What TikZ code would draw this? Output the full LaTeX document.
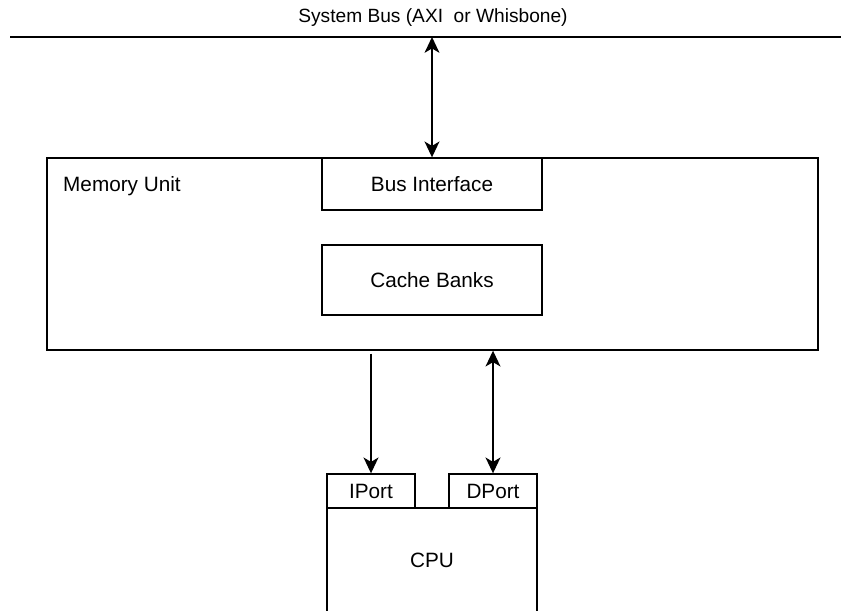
\documentclass[tikz,border=0pt]{standalone}
\usepackage{fontspec}
\setmainfont{Liberation Sans}
\usepackage{tikz}
\usetikzlibrary{arrows.meta,positioning,calc}

\begin{document}
\begin{tikzpicture}[
  x=0.02cm, y=-0.02cm,
  every node/.style={font=\fontsize{11.8}{14}\selectfont},
  block/.style={draw, rectangle, inner sep=0pt, line width=0.8pt, fill=white},
  unit/.style={block, minimum width=15.42cm, minimum height=3.84cm},
  sub/.style={block, minimum width=4.4cm},
  port/.style={block, minimum width=1.76cm, minimum height=0.68cm},
  link/.style={-{Stealth[length=9pt,width=8.5pt,inset=2.5pt]}, line width=0.8pt},
  duplex/.style={{Stealth[length=9pt,width=8.5pt,inset=2.5pt]}-{Stealth[length=9pt,width=8.5pt,inset=2.5pt]}, line width=0.8pt}
]
\useasboundingbox (0,0) rectangle (841,610);
\clip (0,0) rectangle (841,610);

% system bus
\coordinate (busL) at (10,37);
\coordinate (busR) at (845,37);
\draw[line width=1pt] (busL) -- (busR);
\node[font=\fontsize{10.9}{13}\selectfont] (buslbl) at (433,18) {System Bus (AXI\ \ or Whisbone)};
\coordinate (bustap) at (432,37);

% memory unit
\node[unit] (mem) at (432.5,254) {};
\node[anchor=west] (memlbl) at (57,186) {Memory Unit};
\node[sub, minimum height=1.04cm] (bif) at (432,184) {Bus Interface};
\node[sub, minimum height=1.4cm] (cache) at (432,280) {Cache Banks};

% cpu with its two ports
\node[block, minimum width=4.2cm, minimum height=2.08cm] (cpu) at (432,560) {CPU};
\node[port] (iport) at (371,491) {IPort};
\node[port] (dport) at (493,491) {DPort};

\draw[duplex] (bustap) -- (bif.north);
\draw[link] ($(mem.south -| iport.north)+(0,3)$) -- (iport.north);
\draw[duplex] (mem.south -| dport.north) -- (dport.north);
\end{tikzpicture}
\end{document}
